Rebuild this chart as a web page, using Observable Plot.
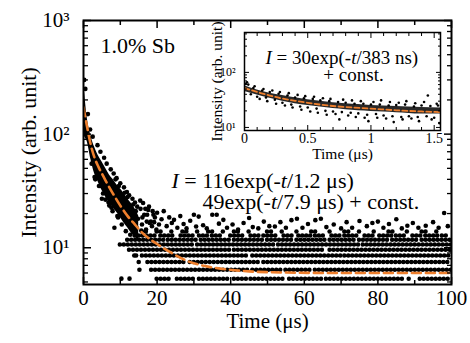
<!DOCTYPE html>
<html><head><meta charset="utf-8">
<script src="https://cdn.jsdelivr.net/npm/d3@7"></script>
<script src="https://cdn.jsdelivr.net/npm/@observablehq/plot@0.6"></script>
<style>
body{margin:0;background:#fff}
#wrap{position:relative;width:470px;height:343px}
#wrap svg{position:absolute;left:0;top:0}
</style></head>
<body><div id="wrap"></div>
<script>
// ---------- main panel data ----------
const sampleLabel = "1.0% Sb";
const mainFitText = ["I = 116exp(-t/1.2 μs)", "49exp(-t/7.9 μs) + const."];
const xLabel = "Time (μs)";
const yLabel = "Intensity (arb. unit)";
const xMajor = [0, 20, 40, 60, 80, 100];
const xMinor = [10, 30, 50, 70, 90];
const yMajor = [10, 100, 1000];
const yMinor = [5, 6, 7, 8, 9, 20, 30, 40, 50, 60, 70, 80, 90, 200, 300, 400, 500, 600, 700, 800, 900];

// dense early cloud (band edges)
const bandT  = [0, 0.3, 1, 2, 3, 4, 5, 6, 7, 8, 9, 10, 11, 12, 13, 14, 15];
const bandHi = [280, 230, 140, 97, 77, 65, 57, 50, 44, 40, 36, 33, 30, 27, 24.5, 22, 19];
const bandLo = [100, 95, 86, 60, 45, 38, 32, 28, 25, 22.5, 20.5, 18.5, 16.5, 15, 13.5, 12.5, 11.5];

// discrete count levels at long times, and the time spans they are filled
const rowLevels = [13.9, 12.8, 11.75, 10.7, 9.6, 8.55, 7.5, 6.4, 5.35];
const rowSpans = [
  [[16,18],[20,21.5],[24,25],[27,28.5],[31,32],[34,35.5],[38,39],[41,42.5],[45,46],[50,51.5],[54,55],[58,59],[62,63.5],[67,68],[71,72.5],[75,76],[79,80],[83,84.5],[88,89],[92,93.5],[96,97]],
  [[14,20],[21,25],[26.5,30],[31.5,34],[35,38],[40,44],[45.5,48],[49,53],[54.5,57],[58.5,62],[63,66],[67.5,70],[71,75],[76.5,79],[80.5,84],[85,88],[89.5,92],[93,96.5],[97.5,99.5]],
  [[12,22],[23,31],[32,40],[41,49],[50,57],[58,66],[67,74],[75,83],[84,91],[92,100]],
  [[10,30],[31,52],[53,75],[76,100]],
  [[12.5,40],[41,66],[67,100]],
  [[16,45],[46,70],[71,100]],
  [[17.5,28],[29,48],[49,100]],
  [[18.5,45],[46,54],[55,62],[63,100]],
  [[20,24],[25.5,30.5],[31.5,36],[37,40],[41,44.5],[45.5,55],[56,61.5],[62.5,65],[66,87.5],[88.5,89.5],[91.5,100]]
];

// individual scattered points
const scatT = [0.2,0.5,1.2,1.8,2.5,2.2,3.2,3.8,4.5,4.6,5.0,5.6,6.3,6.8,7.4,7.6,8.2,8.4,9.0,9.4,10.0,10.4,11.0,11.5,11.8,12.4,12.7,13.3,14.0,14.6,15.4,16.2,16.8,17.3,17.8,18.3,18.8,19.4,20.0,20.5,21.2,21.8,22.6,23.3,24.0,24.6,25.5,26.3,27.2,28.0,29.0,30.0,30.6,31.3,32.5,33.5,35.0,36.2,36.8,38.0,39.0,40.5,42.0,43.5,45.0,46.0,47.5,49.0,50.5,52.0,53.5,55.0,56.5,58.0,59.5,61.0,63.0,64.5,66.0,68.0,70.0,71.5,73.0,75.0,77.0,78.5,80.0,81.5,83.0,85.0,86.5,88.0,89.5,91.0,93.0,95.0,96.5,98.0,99.0,10.3,12.5,15.2,15.0,13.8,14.3,
  10.8,11.6,12.2,12.9,13.5,14.2,14.8,15.5,15.9,16.5,17.0,17.6,18.6,19.0,19.8,13.2,14.4,15.7,11.2,12.0,9.6,8.7,16.0,17.2,18.0,19.2,3.0,4.2,5.3,6.0,7.0,7.9,9.2];
const scatI = [300,250,150,110,95,55,40,80,35,70,27,62,55,25,49,22.5,45,15,41,18.5,37,16,34,14,31,29,13,27,25,23,26,24.8,22,19.5,23,17,21,18.5,20.3,16,17.8,21,15.5,18.5,16.5,17.6,15,19,16.2,14.8,17.3,19.5,15.4,18.8,15.8,14.8,19.5,19.5,16.3,17.6,15,16,14.5,16.5,18.3,15.2,14.8,17,15.5,15.4,16.8,15,17.5,18,15,16.2,17.5,18,15.2,16,14.8,16.8,15,17.2,15.5,16.5,17,15,16.2,17.8,14.8,15.6,16.5,15,15.6,16.8,15,20.2,15.5,5.35,5.35,6.4,7.5,8.55,8.55,
  26,24,22.5,20,24,21,18,22,16,19.5,14.5,21.5,15.5,19.5,14.5,17,15,14.2,30.5,28,35,40,18.5,17,16.5,16.8,42,35,30,26.5,23.5,21,19];

// fitted curve
const fitT = [0, 0.5, 1, 2, 3, 4, 5, 6, 8, 10, 12, 14, 16, 20, 24, 28, 33, 38, 45, 55, 70, 85, 100];
const fitI = [172, 140, 115, 80, 62, 52, 45, 39, 30, 23.5, 19, 16, 13.5, 10.8, 9, 7.7, 6.9, 6.5, 6.2, 6.05, 6, 6, 6];

// ---------- inset data ----------
const insetFitText = ["I = 30exp(-t/383 ns)", "+ const."];
const insetXMajor = [0, 0.5, 1, 1.5];
const insetXMinor = [0.1,0.2,0.3,0.4,0.6,0.7,0.8,0.9,1.1,1.2,1.3,1.4];
const insetYMajor = [10, 100];
const insetYMinor = [20,30,40,50,60,70,80,90,200,300,400,500];
const inBandT  = [0, 0.1, 0.2, 0.3, 0.4, 0.5, 0.6, 0.7, 0.8, 0.9, 1.0, 1.1, 1.2, 1.3, 1.4, 1.55];
const inBandHi = [57, 48, 42, 38, 34.5, 32, 30, 28, 27, 26, 25, 24.5, 24, 23.5, 23, 22.5];
const inBandLo = [45, 39, 34, 30, 27, 25, 23.5, 22, 21, 20, 19.5, 19, 18.5, 18, 17.5, 17.5];
const inScatT = [0.01,0.02,0.05,0.08,0.12,0.15,0.18,0.22,0.25,0.28,0.32,0.35,0.38,0.42,0.45,0.48,0.52,0.55,0.58,0.62,0.65,0.68,0.72,0.75,0.78,0.82,0.85,0.88,0.92,0.95,0.98,1.02,1.05,1.08,1.12,1.15,1.18,1.22,1.25,1.28,1.32,1.35,1.38,1.42,1.45,1.48,1.52,1.54,
  0.03,0.07,0.1,0.14,0.17,0.2,0.24,0.27,0.3,0.34,0.37,0.4,0.44,0.47,0.5,0.54,0.57,0.6,0.64,0.67,0.7,0.74,0.77,0.8,0.84,0.87,0.9,0.94,0.97,1.0,1.04,1.07,1.1,1.14,1.17,1.2,1.24,1.27,1.3,1.34,1.37,1.4,1.44,1.47,1.5,1.53];
const inScatI = [62,66,40,56,33,50,30,47,27,44,25,42,23,39,21,37,19.5,36,18.5,34,17,33,17.5,14,32,16.5,31,15.5,30,15,13,29,15,31,14.5,29,12.5,28,14,30,14.5,27.5,13,29,38,14,27,12,
  60,52,36,47,35,44,32,41,28,38,26,35,24,34,23,33,22,31,20,30,19.5,29,19,28,18.5,27,18,27,17,26,17.5,26,16.5,25,16,25.5,15.5,26,16,24,15.5,25,16,24.5,15,25];
const inFitT = [0, 0.1, 0.2, 0.3, 0.4, 0.5, 0.6, 0.7, 0.8, 1.0, 1.2, 1.4, 1.55];
const inFitI = [52, 44, 38, 33.5, 30.5, 28, 26, 24.5, 23.5, 22, 20.5, 19.5, 19];

// ---------- build tables ----------
const band = bandT.map((t, i) => ({t, lo: bandLo[i], hi: bandHi[i]}));
const rows = rowLevels.flatMap((lv, i) => rowSpans[i].map(([a, b]) => ({level: lv, t1: a, t2: b})));
const scat = scatT.map((t, i) => ({t, v: scatI[i]}));
const fit = fitT.map((t, i) => ({t, v: fitI[i]}));
const inBand = inBandT.map((t, i) => ({t, lo: inBandLo[i], hi: inBandHi[i]}));
const inScat = inScatT.map((t, i) => ({t, v: inScatI[i]}));
const inFit = inFitT.map((t, i) => ({t, v: inFitI[i]}));

const SUP = {"1": "¹", "2": "²", "3": "³"};
const pow10 = d => "10" + SUP[String(Math.round(Math.log10(d)))];
const blank = () => "";
const FONT = "'Liberation Serif', 'Times New Roman', serif";
const ORANGE = "#ee7f2d";

const main = Plot.plot({
  width: 470, height: 343,
  marginLeft: 83, marginRight: 19, marginTop: 20, marginBottom: 59,
  x: {domain: [0, 100]},
  y: {type: "log", domain: [4.75, 1000]},
  style: {fontFamily: FONT, fontSize: "21px", background: "transparent", color: "black"},
  marks: [
    Plot.areaY(band, {x: "t", y1: "lo", y2: "hi", fill: "#000", curve: "monotone-x"}),
    Plot.ruleY(rows, {y: "level", x1: "t1", x2: "t2", stroke: "#000", strokeWidth: 4.5, strokeLinecap: "round", strokeDasharray: "0 4", clip: true}),
    Plot.dot(scat, {x: "t", y: "v", r: 2.3, fill: "#000", stroke: null, clip: true}),
    Plot.line(fit, {x: "t", y: "v", stroke: ORANGE, strokeWidth: 2.6, strokeDasharray: "9 5", curve: "monotone-x", clip: true}),
    Plot.frame({stroke: "#000", strokeWidth: 2}),
    Plot.axisX({anchor: "bottom", ticks: xMajor, tickSize: -7, tickFormat: blank, label: null, strokeWidth: 1.5}),
    Plot.axisX({anchor: "bottom", ticks: xMinor, tickSize: -4, tickFormat: blank, label: null, strokeWidth: 1.5}),
    Plot.axisX({anchor: "top", ticks: xMajor, tickSize: -7, tickFormat: blank, label: null, strokeWidth: 1.5}),
    Plot.axisX({anchor: "top", ticks: xMinor, tickSize: -4, tickFormat: blank, label: null, strokeWidth: 1.5}),
    Plot.axisX({anchor: "bottom", ticks: xMajor, tickSize: 0, tickPadding: 6, label: null, fontSize: 21}),
    Plot.axisY({anchor: "left", ticks: yMajor, tickSize: -8, tickFormat: blank, label: null, strokeWidth: 1.5}),
    Plot.axisY({anchor: "left", ticks: yMinor, tickSize: -5, tickFormat: blank, label: null, strokeWidth: 1.3}),
    Plot.axisY({anchor: "right", ticks: yMajor, tickSize: -8, tickFormat: blank, label: null, strokeWidth: 1.5}),
    Plot.axisY({anchor: "right", ticks: yMinor, tickSize: -5, tickFormat: blank, label: null, strokeWidth: 1.3}),
    Plot.axisY({anchor: "left", ticks: yMajor, tickSize: 0, tickPadding: 14, tickFormat: pow10, label: null, fontSize: 21}),
    Plot.text([xLabel], {text: d => d, frameAnchor: "bottom", dy: 43, lineAnchor: "bottom", fontSize: 21}),
    Plot.text([yLabel], {text: d => d, frameAnchor: "left", dx: -55, rotate: -90, textAnchor: "middle", lineAnchor: "middle", fontSize: 22}),
    Plot.text([sampleLabel], {text: d => d, frameAnchor: "top-left", dx: 17, dy: 32, textAnchor: "start", lineAnchor: "bottom", fontSize: 22}),
    Plot.text([mainFitText[0]], {text: d => d, frameAnchor: "top-left", dx: 88, dy: 167, textAnchor: "start", lineAnchor: "bottom", fontSize: 22}),
    Plot.text([mainFitText[1]], {text: d => d, frameAnchor: "top-left", dx: 119, dy: 188, textAnchor: "start", lineAnchor: "bottom", fontSize: 22})
  ]
});

const inset = Plot.plot({
  width: 470, height: 343,
  marginLeft: 244, marginRight: 30, marginTop: 32, marginBottom: 213,
  x: {domain: [0, 1.55]},
  y: {type: "log", domain: [8.8, 530]},
  style: {fontFamily: FONT, fontSize: "14px", background: "transparent", color: "black"},
  marks: [
    Plot.frame({fill: "white", stroke: null}),
    Plot.areaY(inBand, {x: "t", y1: "lo", y2: "hi", fill: "#111", fillOpacity: 0.9, curve: "monotone-x"}),
    Plot.dot(inScat, {x: "t", y: "v", r: 1.3, fill: "#000", stroke: null, clip: true}),
    Plot.line(inFit, {x: "t", y: "v", stroke: ORANGE, strokeWidth: 1.8, strokeDasharray: "5 3", curve: "monotone-x", clip: true}),
    Plot.frame({stroke: "#000", strokeWidth: 1.5}),
    Plot.axisX({anchor: "bottom", ticks: insetXMajor, tickSize: -5, tickFormat: blank, label: null}),
    Plot.axisX({anchor: "bottom", ticks: insetXMinor, tickSize: -3, tickFormat: blank, label: null}),
    Plot.axisX({anchor: "top", ticks: insetXMajor, tickSize: -5, tickFormat: blank, label: null}),
    Plot.axisX({anchor: "top", ticks: insetXMinor, tickSize: -3, tickFormat: blank, label: null}),
    Plot.axisX({anchor: "bottom", ticks: insetXMajor, tickSize: 0, tickPadding: 3, label: null, fontSize: 14, tickFormat: d => String(d)}),
    Plot.axisY({anchor: "left", ticks: insetYMajor, tickSize: -5, tickFormat: blank, label: null}),
    Plot.axisY({anchor: "left", ticks: insetYMinor, tickSize: -3, tickFormat: blank, label: null}),
    Plot.axisY({anchor: "right", ticks: insetYMajor, tickSize: -5, tickFormat: blank, label: null}),
    Plot.axisY({anchor: "right", ticks: insetYMinor, tickSize: -3, tickFormat: blank, label: null}),
    Plot.axisY({anchor: "left", ticks: insetYMajor, tickSize: 0, tickPadding: 9, tickFormat: pow10, label: null, fontSize: 12}),
    Plot.text([xLabel], {text: d => d, frameAnchor: "bottom", dy: 28, lineAnchor: "bottom", fontSize: 15.5}),
    Plot.text([yLabel], {text: d => d, frameAnchor: "left", dx: -27, rotate: -90, textAnchor: "middle", lineAnchor: "middle", fontSize: 15.5}),
    Plot.text([insetFitText[0]], {text: d => d, frameAnchor: "top-left", dx: 21, dy: 31, textAnchor: "start", lineAnchor: "bottom", fontSize: 19}),
    Plot.text([insetFitText[1]], {text: d => d, frameAnchor: "top-left", dx: 109, dy: 48, textAnchor: "middle", lineAnchor: "bottom", fontSize: 19})
  ]
});

// italicize the variable symbols I and t in the fit formulas
function italicize(svg) {
  svg.querySelectorAll("text").forEach(el => {
    const s = el.textContent;
    if (!/exp\(-t/.test(s) || el.querySelector("tspan")) return;
    const isIt = i => (i === 0 && s[0] === "I" && s[1] === " ") || (s[i] === "t" && s[i - 1] === "-");
    el.textContent = "";
    let buf = "", cur = isIt(0);
    const flush = () => {
      if (!buf) return;
      const ts = document.createElementNS("http://www.w3.org/2000/svg", "tspan");
      if (cur) ts.setAttribute("font-style", "italic");
      ts.textContent = buf;
      el.appendChild(ts);
      buf = "";
    };
    for (let i = 0; i < s.length; i++) {
      const it = isIt(i);
      if (it !== cur) { flush(); cur = it; }
      buf += s[i];
    }
    flush();
  });
}
italicize(main);
italicize(inset);

const wrap = document.getElementById("wrap");
wrap.appendChild(main);
wrap.appendChild(inset);
</script>
</body></html>
